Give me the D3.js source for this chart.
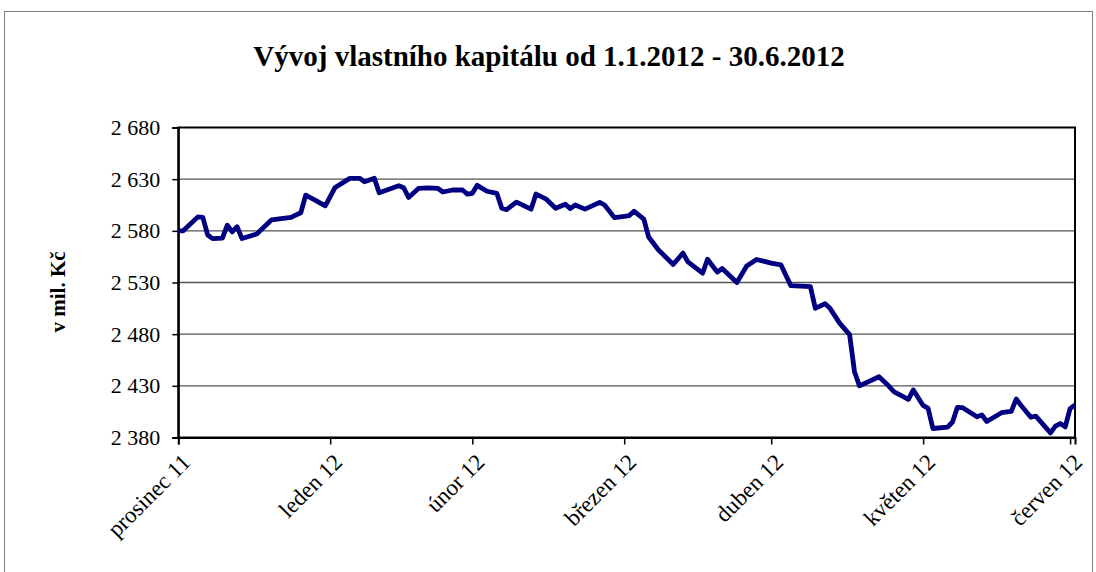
<!DOCTYPE html>
<html><head><meta charset="utf-8">
<script src="https://cdn.jsdelivr.net/npm/d3@7"></script>
<style>
html,body{margin:0;padding:0;background:#fff;}
svg{display:block;}
text{font-family:"Liberation Serif","Times New Roman",serif;fill:#000;}
</style></head>
<body>
<script>
const title = "Vývoj vlastního kapitálu od 1.1.2012 - 30.6.2012";
const yLabel = "v mil. Kč";
const dates = ["2011-12-31","2012-01-01","2012-01-04","2012-01-05","2012-01-06","2012-01-07","2012-01-09","2012-01-10","2012-01-11","2012-01-12","2012-01-13","2012-01-16","2012-01-19","2012-01-23","2012-01-25","2012-01-26","2012-01-28","2012-01-30",
"2012-02-01","2012-02-04","2012-02-06","2012-02-07","2012-02-09","2012-02-10","2012-02-14","2012-02-15","2012-02-16","2012-02-18","2012-02-20","2012-02-22","2012-02-23","2012-02-25","2012-02-27","2012-02-28","2012-02-29",
"2012-03-01","2012-03-03","2012-03-05","2012-03-06","2012-03-07","2012-03-09","2012-03-12","2012-03-13","2012-03-15","2012-03-17","2012-03-19","2012-03-20","2012-03-21","2012-03-23","2012-03-26","2012-03-27","2012-03-29","2012-03-31",
"2012-04-01","2012-04-02","2012-04-04","2012-04-05","2012-04-07","2012-04-10","2012-04-11","2012-04-12","2012-04-13","2012-04-14","2012-04-16","2012-04-17","2012-04-19","2012-04-20","2012-04-23","2012-04-25","2012-04-27","2012-04-30",
"2012-05-02","2012-05-04","2012-05-08","2012-05-09","2012-05-11","2012-05-12","2012-05-14","2012-05-16","2012-05-17","2012-05-18","2012-05-22","2012-05-24","2012-05-25","2012-05-28","2012-05-29","2012-05-31",
"2012-06-01","2012-06-02","2012-06-05","2012-06-06","2012-06-07","2012-06-08","2012-06-11","2012-06-12","2012-06-13","2012-06-16","2012-06-18","2012-06-19","2012-06-20","2012-06-22","2012-06-23","2012-06-26","2012-06-27","2012-06-28","2012-06-29","2012-06-30","2012-07-01"];
const values = [2580,2580,2593.5,2593,2576,2572.5,2573,2585.5,2579,2584,2572.5,2577,2590.5,2593,2597.5,2614.5,2609.5,2604.2,
2622,2630.8,2630.8,2627.5,2631,2616.8,2623.7,2621.7,2612.3,2621,2621.5,2621,2617.6,2619.5,2619.5,2615.5,2616.3,
2624,2618.3,2616.3,2602,2600.5,2607.8,2601,2615.6,2611,2601.8,2605.7,2601.5,2605,2601,2607.6,2605,2592.8,2594,
2594.7,2599,2591.3,2574,2561.5,2547.5,2553,2558.5,2550,2546.3,2539,2552.5,2540,2543.5,2530,2546,2552.3,2548.8,
2547,2527,2526,2505,2509.5,2505,2490.5,2479.5,2443.7,2430,2438.8,2429.8,2424.5,2417,2426,2411,
2408.5,2388.7,2390,2395,2409.2,2409,2400,2401.8,2395.5,2404,2405.3,2417.2,2411,2399.6,2400.6,2384.5,2391,2393.5,2390.3,2408,2411.5];
const yTicks = [2380,2430,2480,2530,2580,2630,2680];
const xTickDates = ["2011-12-31","2012-01-31","2012-02-29","2012-03-31","2012-04-30","2012-05-31","2012-06-30"];
const xTickLabels = ["prosinec 11","leden 12","únor 12","březen 12","duben 12","květen 12","červen 12"];

const parse = d3.timeParse("%Y-%m-%d");
const data = dates.map((d,i)=>({date:parse(d), value:values[i]}));
const W = 1096, H = 572;
const L = 178.3, R = 1075, T = 127.5, B = 437.5;

const svg = d3.select("body").append("svg").attr("width",W).attr("height",H);
svg.append("rect").attr("width",W).attr("height",H).attr("fill","#fff");
svg.append("rect").attr("x",4.5).attr("y",11.5).attr("width",1088).attr("height",H).attr("fill","none").attr("stroke","#7f7f7f").attr("stroke-width",1);

const x = d3.scaleTime().domain([parse("2011-12-31"), parse("2012-07-01")]).range([L,R]);
const y = d3.scaleLinear().domain([2380,2680]).range([B,T]);

const loc = d3.formatLocale({decimal:",",thousands:"\u00a0",grouping:[3],currency:["",""]});
const fmt = loc.format(",d");

svg.append("g").selectAll("line").data(yTicks.slice(1,-1)).join("line")
  .attr("x1",L).attr("x2",R).attr("y1",d=>y(d)).attr("y2",d=>y(d))
  .attr("stroke","#555").attr("stroke-width",1.3);

svg.append("rect").attr("x",L).attr("y",T).attr("width",R-L).attr("height",B-T)
  .attr("fill","none").attr("stroke","#000").attr("stroke-width",2);

const yAxis = svg.append("g").attr("transform",`translate(${L},0)`)
  .call(d3.axisLeft(y).tickValues(yTicks).tickSize(6).tickPadding(12).tickFormat(fmt));
yAxis.select(".domain").attr("stroke","#000").attr("stroke-width",2);
yAxis.selectAll(".tick line").attr("stroke","#000").attr("stroke-width",1.5);
yAxis.selectAll("text").attr("font-size",22).attr("font-family","Liberation Serif");

const xAxis = svg.append("g").attr("transform",`translate(0,${B})`)
  .call(d3.axisBottom(x).tickValues(xTickDates.map(parse)).tickSize(7).tickFormat((d,i)=>xTickLabels[i]));
xAxis.select(".domain").attr("stroke","#000").attr("stroke-width",2);
xAxis.selectAll(".tick line").attr("stroke","#000").attr("stroke-width",1.5);
xAxis.selectAll("text").attr("font-size",23).attr("font-family","Liberation Serif")
  .attr("text-anchor","end").attr("dy",0).attr("y",0)
  .attr("transform","translate(13,26) rotate(-45)");

svg.append("path").datum(data).attr("fill","none").attr("stroke","#000080")
  .attr("stroke-width",4.8).attr("stroke-linejoin","round")
  .attr("d",d3.line().x(d=>x(d.date)).y(d=>y(d.value)));

svg.append("text").attr("x",549).attr("y",66).attr("text-anchor","middle")
  .attr("font-size",29).attr("font-weight","bold").text(title);

svg.append("text").attr("transform","translate(65,292) rotate(-90)").attr("text-anchor","middle")
  .attr("font-size",21).attr("font-weight","bold").text(yLabel);
</script>
</body></html>
